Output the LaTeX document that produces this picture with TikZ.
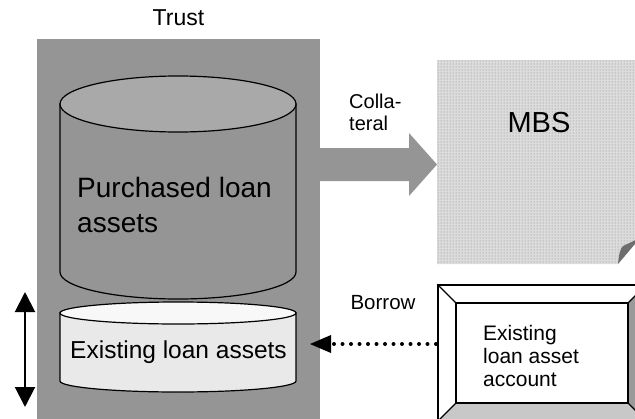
\documentclass[tikz,border=0pt]{standalone}
\usepackage{fontspec}
\setmainfont{Liberation Sans}
\usetikzlibrary{arrows.meta,patterns}
\definecolor{trustgray}{HTML}{959595}
\definecolor{topgray}{HTML}{A9A9A9}
\definecolor{foldgray}{HTML}{6E6E6E}
\definecolor{mbsgray}{HTML}{DCDCDC}
\definecolor{exgray}{HTML}{E9E9E9}
\definecolor{exttop}{HTML}{F8F8F8}
\definecolor{bevbot}{HTML}{C8C8C8}
\definecolor{bevright}{HTML}{9A9A9A}
\tikzset{
  outl/.style={draw=black,line width=1.2pt},
  txt/.style={inner sep=0pt,text=black},
}
\begin{document}
\begin{tikzpicture}[x=1pt,y=-1pt]
\useasboundingbox (0,0) rectangle (635,418);
\fill[white] (0,0) rectangle (635,418);

% Trust block
\fill[trustgray] (37,39) rectangle (320,420);
\node[txt,font=\fontsize{23}{26}\selectfont] (trust) at (178.5,18) {Trust};

% Purchased loan cylinder
\filldraw[outl,fill=trustgray] (60,104) -- (60,272) arc[start angle=180,end angle=0,x radius=118,y radius=27] -- (296,104) -- cycle;
\filldraw[outl,fill=topgray] (178,104) ellipse [x radius=118,y radius=28];
\node[txt,anchor=west,align=left,font=\fontsize{28}{35}\selectfont] (purch) at (77,205) {Purchased loan\\assets};

% Existing loan assets cylinder
\filldraw[outl,fill=exgray] (60,313) -- (60,381) arc[start angle=180,end angle=0,x radius=118,y radius=11] -- (296,313) -- cycle;
\filldraw[outl,fill=exttop] (178,313) ellipse [x radius=118,y radius=11];
\node[txt,font=\fontsize{24.5}{28}\selectfont] (exist) at (178.5,352) {Existing loan assets};

% Double arrow on the left
\coordinate (dtop) at (25,292);
\coordinate (dbot) at (25,407);
\draw[line width=2pt,{Triangle[width=20pt,length=20pt]}-{Triangle[width=20pt,length=20pt]}] (dtop) -- (dbot);

% Collateral block arrow
\fill[trustgray] (320,148) -- (409,148) -- (409,133) -- (437,164.5) -- (409,196) -- (409,181) -- (320,181) -- cycle;
\node[txt,anchor=west,align=left,font=\fontsize{20}{22}\selectfont] (colla) at (349,112) {Colla-\\teral};

% MBS page with folded corner
\fill[mbsgray] (437,60) -- (640,60) -- (640,238) -- (618,264) -- (437,264) -- cycle;
\fill[pattern=dots,pattern color=gray] (437,60) -- (640,60) -- (640,238) -- (618,264) -- (437,264) -- cycle;
\fill[foldgray] (618,264) .. controls (619,254) and (620,249) .. (623,246) -- (640,238) -- cycle;
\node[txt,font=\fontsize{29}{32}\selectfont] (mbs) at (539,123) {MBS};

% Existing loan asset account (bevelled box)
\fill[white] (438,285) -- (646,285) -- (628,303) -- (456,303) -- cycle;
\fill[white] (438,285) -- (456,303) -- (456,403) -- (438,421) -- cycle;
\fill[bevbot] (438,421) -- (456,403) -- (628,403) -- (646,421) -- cycle;
\fill[bevright] (646,285) -- (628,303) -- (628,403) -- (646,421) -- cycle;
\draw[outl] (438,285) rectangle (646,421);
\draw[outl] (456,303) rectangle (628,403);
\draw[outl] (438,285) -- (456,303);
\draw[outl] (646,285) -- (628,303);
\draw[outl] (438,421) -- (456,403);
\draw[outl] (646,421) -- (628,403);
\node[txt,anchor=west,align=left,font=\fontsize{21}{23}\selectfont] (acct) at (483,356) {Existing\\loan asset\\account};
\coordinate (acctw) at (436,344);

% Borrow dotted arrow
\coordinate (borrowtip) at (310,344);
\coordinate (borrowbase) at (334,344);
\node[txt,font=\fontsize{20.5}{23}\selectfont] (borrow) at (383,303) {Borrow};
\draw[line width=4pt,line cap=round,dash pattern=on 0pt off 8.5pt] (acctw) -- (borrowbase);
\fill[black] (borrowtip) -- (331,335) -- (331,353) -- cycle;
\end{tikzpicture}
\end{document}
